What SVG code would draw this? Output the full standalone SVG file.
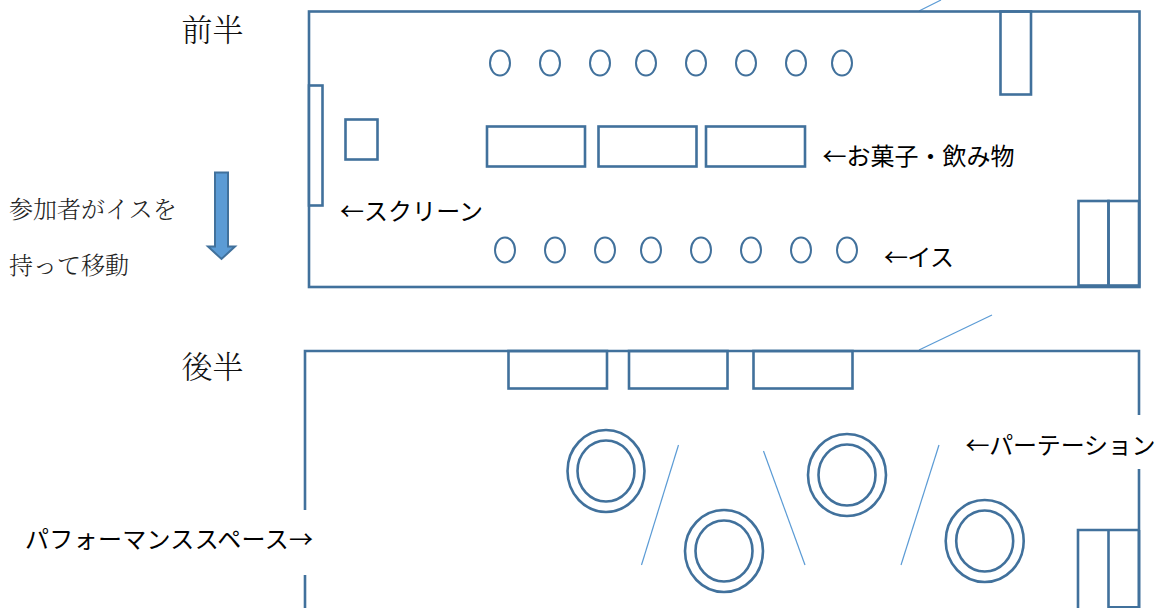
<svg xmlns="http://www.w3.org/2000/svg" width="1158" height="608" viewBox="0 0 1158 608">
<style>
.s{fill:none;stroke:#41719c;stroke-width:2.600}
.w{fill:#fff;stroke:#41719c;stroke-width:2.600}
.t{fill:none;stroke:#5b9bd5;stroke-width:1.200}
text{font-family:"Noto Sans CJK JP","Noto Sans",sans-serif;fill:#000}
.l{font-size:24px}
.m{font-size:24px;font-weight:300;fill:#222;font-family:"Noto Serif CJK JP","Noto Sans CJK JP",serif}
.h{font-size:31px;font-weight:300;fill:#111;font-family:"Noto Serif CJK JP","Noto Sans CJK JP",serif}
</style>
<rect width="1158" height="608" fill="#fff"/>
<g id="first-half">
<line class="t" x1="919" y1="11" x2="941" y2="0"/>
<rect class="s" x="309" y="11.500" width="830.500" height="275.500"/>
<rect class="w" x="309" y="85.500" width="13.500" height="120"/>
<rect class="s" x="345.500" y="119.500" width="32" height="40"/>
<rect class="s" x="1000.500" y="11.500" width="30.500" height="83"/>
<rect class="s" x="1078.500" y="201" width="30" height="84.500"/>
<rect class="s" x="1108.500" y="201" width="30.500" height="84.500"/>
<rect class="s" x="487" y="126.500" width="98" height="40"/>
<rect class="s" x="598.500" y="126.500" width="98" height="40"/>
<rect class="s" x="706" y="126.500" width="99" height="40"/>
<g class="s" style="stroke-width:2">
<ellipse cx="500" cy="63" rx="10" ry="12.500"/><ellipse cx="550" cy="63" rx="10" ry="12.500"/><ellipse cx="600" cy="63" rx="10" ry="12.500"/><ellipse cx="646" cy="63" rx="10" ry="12.500"/><ellipse cx="696" cy="63" rx="10" ry="12.500"/><ellipse cx="746" cy="63" rx="10" ry="12.500"/><ellipse cx="796" cy="63" rx="10" ry="12.500"/><ellipse cx="842" cy="63" rx="10" ry="12.500"/>
<ellipse cx="505" cy="250" rx="10" ry="12.500"/><ellipse cx="555" cy="250" rx="10" ry="12.500"/><ellipse cx="605" cy="250" rx="10" ry="12.500"/><ellipse cx="651" cy="250" rx="10" ry="12.500"/><ellipse cx="701" cy="250" rx="10" ry="12.500"/><ellipse cx="751" cy="250" rx="10" ry="12.500"/><ellipse cx="801" cy="250" rx="10" ry="12.500"/><ellipse cx="847" cy="250" rx="10" ry="12.500"/>
</g>
<path d="M215 172.500H228V246.500H235L221.500 259L208 246.500H215Z" fill="#5b9bd5" stroke="#41719c" stroke-width="2"/>
<text class="h" x="181.500" y="41">前半</text>
<text class="m" x="9" y="218">参加者がイスを</text>
<text class="m" x="9" y="274">持って移動</text>
<text class="l" x="340" y="220" textLength="143">←スクリーン</text>
<text class="l" x="822.500" y="165" textLength="192">←お菓子・飲み物</text>
<text class="l" x="884" y="266" textLength="70">←イス</text>
</g>
<g id="second-half">
<line class="t" x1="919" y1="350" x2="992" y2="315"/>
<path class="s" d="M305 510V351H1139V415M1139 469V608M305 575V608"/>
<rect class="s" x="508.500" y="351" width="98.500" height="37.500"/>
<rect class="s" x="629" y="351" width="98.500" height="37.500"/>
<rect class="s" x="753.500" y="351" width="99" height="37.500"/>
<path class="s" d="M1078 610V530H1139M1108.500 530V607.300H1139V530"/>
<g class="s">
<ellipse cx="606" cy="471" rx="38.500" ry="41"/><ellipse cx="606" cy="471" rx="28.500" ry="30.500"/>
<ellipse cx="847" cy="475" rx="39" ry="41"/><ellipse cx="847" cy="475" rx="28.500" ry="30.500"/>
<ellipse cx="724" cy="551" rx="39" ry="41"/><ellipse cx="724" cy="551" rx="28.500" ry="30.500"/>
<ellipse cx="984.700" cy="541" rx="39" ry="41"/><ellipse cx="984.700" cy="541" rx="28.500" ry="30.500"/>
</g>
<line class="t" x1="678.500" y1="445" x2="641.500" y2="565"/>
<line class="t" x1="763.500" y1="451" x2="805" y2="565"/>
<line class="t" x1="939" y1="445" x2="901" y2="565"/>
<text class="h" x="181.500" y="378">後半</text>
<text class="l" x="25" y="548" textLength="288">パフォーマンススペース→</text>
<text class="l" x="965.500" y="454" textLength="190">←パーテーション</text>
</g>
</svg>
